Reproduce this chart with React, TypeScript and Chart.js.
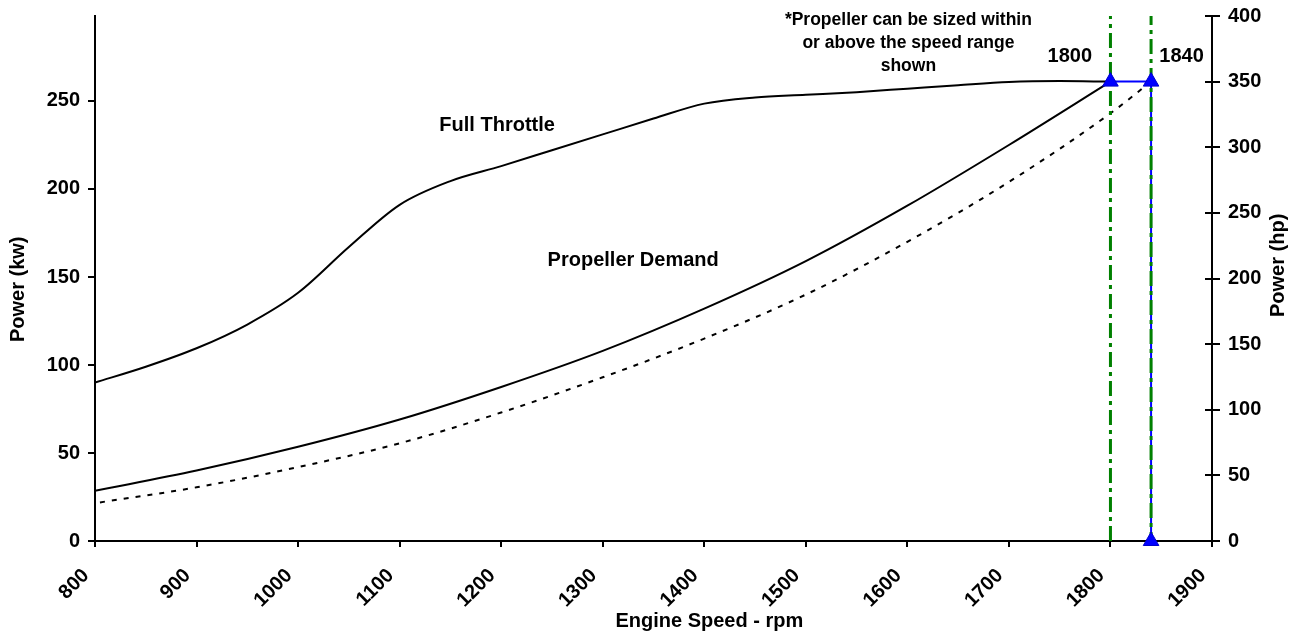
import React, { useEffect, useRef } from "react";
import { Chart, registerables } from "chart.js";

Chart.register(...registerables);

// ---- data ----
const HP_TO_KW = 0.7457;
const hpMax = 400;
const kwMax = hpMax * HP_TO_KW;

const rpmTicks = [800, 900, 1000, 1100, 1200, 1300, 1400, 1500, 1600, 1700, 1800, 1900];
const kwTicks = [0, 50, 100, 150, 200, 250];
const hpTicks = [0, 50, 100, 150, 200, 250, 300, 350, 400];

const fullThrottleRpm = [800, 850, 900, 950, 1000, 1050, 1100, 1150, 1200, 1250, 1300, 1350, 1400, 1450, 1500, 1550, 1600, 1650, 1700, 1750, 1800];
const fullThrottleKw = [90, 99, 109.5, 123, 141, 167, 191, 204.5, 213, 222, 231, 240, 248.5, 252, 253.5, 255, 257, 259, 260.8, 261.3, 261];

const propellerRpm = [800, 900, 1000, 1100, 1200, 1300, 1400, 1500, 1600, 1700, 1800];
const propellerKw = [28.5, 40, 53.5, 69, 87.5, 108, 132, 159, 190.5, 225, 261];

const propLimitRpm = [800, 900, 1000, 1100, 1200, 1300, 1400, 1500, 1600, 1700, 1800, 1840];
const propLimitKw = [21.5, 30.5, 42, 55.5, 73, 93, 115, 140, 170, 204, 243, 261];

const ratedRpm = [1800, 1840, 1840];
const ratedKw = [261, 261, 0];

const guideRpm = [1800, 1840];

const xTitle = "Engine Speed - rpm";
const yTitle = "Power (kw)";
const y2Title = "Power (hp)";

const FONT = "'Liberation Sans', Arial, Helvetica, sans-serif";
const FS = 20;
const NOTE_FS = 17.5;

const textLabels = [
  { lines: ["Full Throttle"], rpm: 1196, kw: 236.3, size: FS },
  { lines: ["Propeller Demand"], rpm: 1330, kw: 159.6, size: FS },
  { lines: ["*Propeller can be sized within", "or above the speed range", "shown"], rpm: 1601, kw: 295.8, size: NOTE_FS },
  { lines: ["1800"], rpm: 1760, kw: 275, size: FS },
  { lines: ["1840"], rpm: 1870, kw: 275, size: FS },
];

const labelPlugin = {
  id: "labelPlugin",
  afterDraw(chart: any) {
    const ctx = chart.ctx;
    const xs = chart.scales.x;
    const ys = chart.scales.y;
    const y2 = chart.scales.y2;
    const area = chart.chartArea;
    ctx.save();
    // inner half of right-axis tick marks
    ctx.strokeStyle = "#000";
    ctx.lineWidth = 2;
    for (const v of hpTicks) {
      const py = Math.round(y2.getPixelForValue(v));
      ctx.beginPath();
      ctx.moveTo(area.right - 7, py);
      ctx.lineTo(area.right, py);
      ctx.stroke();
    }
    ctx.fillStyle = "#000";
    ctx.textAlign = "center";
    ctx.textBaseline = "middle";
    for (const l of textLabels) {
      ctx.font = `bold ${l.size}px ${FONT}`;
      const px = xs.getPixelForValue(l.rpm);
      const py = ys.getPixelForValue(l.kw);
      l.lines.forEach((t, i) => ctx.fillText(t, px, py + i * 23));
    }
    // axis titles
    ctx.font = `bold ${FS}px ${FONT}`;
    ctx.fillText(xTitle, xs.getPixelForValue(1405), 621);
    ctx.save();
    ctx.translate(18, ys.getPixelForValue(143));
    ctx.rotate(-Math.PI / 2);
    ctx.fillText(yTitle, 0, 0);
    ctx.restore();
    ctx.save();
    ctx.translate(1278, y2.getPixelForValue(210));
    ctx.rotate(-Math.PI / 2);
    ctx.fillText(y2Title, 0, 0);
    ctx.restore();
    ctx.restore();
  },
};

const noPad = (s: any, w: number) => {
  s.width = w;
  s.paddingTop = 0;
  s.paddingBottom = 0;
};

export default function App() {
  const ref = useRef<HTMLCanvasElement | null>(null);
  useEffect(() => {
    if (!ref.current) return;
    const pts = (xs: number[], ys: number[]) => xs.map((x, i) => ({ x, y: ys[i] }));
    const tickFont = { family: FONT, size: FS, weight: "bold" as const };
    const chart = new Chart(ref.current, {
      type: "line",
      data: {
        datasets: [
          {
            label: "rated points",
            data: pts(ratedRpm, ratedKw),
            showLine: false,
            pointStyle: "triangle",
            pointRadius: 9,
            pointBackgroundColor: "#0000ff",
            pointBorderColor: "#0000cc",
            pointBorderWidth: 1,
            clip: false,
            order: 0,
          },
          {
            label: "1800 guide",
            data: pts([guideRpm[0], guideRpm[0]], [0, kwMax]),
            borderColor: "#008000",
            borderWidth: 3,
            borderDash: [15, 5, 4, 5],
            pointRadius: 0,
            clip: 6,
            order: 1,
          },
          {
            label: "1840 guide",
            data: pts([guideRpm[1], guideRpm[1]], [0, kwMax]),
            borderColor: "#008000",
            borderWidth: 3,
            borderDash: [15, 5, 4, 5],
            borderDashOffset: 6,
            pointRadius: 0,
            order: 1,
          },
          {
            label: "rated line",
            data: pts(ratedRpm, ratedKw),
            borderColor: "#0000ff",
            borderWidth: 2,
            pointRadius: 0,
            tension: 0,
            order: 2,
          },
          {
            label: "Full Throttle",
            data: pts(fullThrottleRpm, fullThrottleKw),
            borderColor: "#000",
            borderWidth: 2,
            pointRadius: 0,
            cubicInterpolationMode: "monotone",
            order: 3,
          },
          {
            label: "Propeller Demand",
            data: pts(propellerRpm, propellerKw),
            borderColor: "#000",
            borderWidth: 2,
            pointRadius: 0,
            cubicInterpolationMode: "monotone",
            order: 3,
          },
          {
            label: "Propeller limit",
            data: pts(propLimitRpm, propLimitKw),
            borderColor: "#000",
            borderWidth: 2,
            borderDash: [5, 7],
            borderDashOffset: 7,
            pointRadius: 0,
            cubicInterpolationMode: "monotone",
            order: 3,
          },
        ],
      },
      options: {
        animation: false,
        responsive: false,
        maintainAspectRatio: false,
        layout: { padding: { top: 16, left: 0, right: 0, bottom: 0 } },
        plugins: { legend: { display: false }, tooltip: { enabled: false }, title: { display: false } },
        scales: {
          x: {
            type: "linear",
            min: 800,
            max: 1900,
            afterBuildTicks: (s: any) => { s.ticks = rpmTicks.map((v) => ({ value: v })); },
            afterFit: (s: any) => { s.height = 94; s.paddingLeft = 0; s.paddingRight = 0; },
            ticks: { color: "#000", font: tickFont, maxRotation: 45, minRotation: 45, padding: 17, labelOffset: -9, autoSkip: false, callback: (v: any) => String(v) },
            grid: { drawOnChartArea: false, drawTicks: true, tickLength: 6, color: "#000", lineWidth: 2 },
            border: { display: true, color: "#000", width: 2 },
          },
          y: {
            type: "linear",
            position: "left",
            min: 0,
            max: kwMax,
            afterBuildTicks: (s: any) => { s.ticks = kwTicks.map((v) => ({ value: v })); },
            afterFit: (s: any) => noPad(s, 95),
            ticks: { color: "#000", font: tickFont, padding: 8 },
            grid: { drawOnChartArea: false, drawTicks: true, tickLength: 7, color: "#000", lineWidth: 2 },
            border: { display: true, color: "#000", width: 2 },
          },
          y2: {
            type: "linear",
            position: "right",
            min: 0,
            max: hpMax,
            afterBuildTicks: (s: any) => { s.ticks = hpTicks.map((v) => ({ value: v })); },
            afterFit: (s: any) => noPad(s, 84),
            ticks: { color: "#000", font: tickFont, padding: 8 },
            grid: { drawOnChartArea: false, drawTicks: true, tickLength: 8, color: "#000", lineWidth: 2 },
            border: { display: true, color: "#000", width: 2 },
          },
        },
      },
      plugins: [labelPlugin],
    });
    return () => chart.destroy();
  }, []);
  return (
    <div style={{ position: "fixed", left: 0, top: 0, width: 1296, height: 635, background: "#fff" }}>
      <canvas ref={ref} width={1296} height={635} style={{ width: 1296, height: 635, display: "block" }} />
    </div>
  );
}
